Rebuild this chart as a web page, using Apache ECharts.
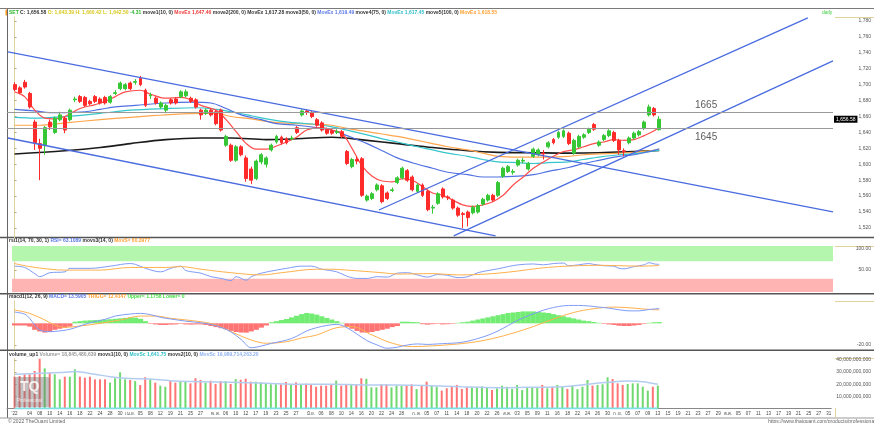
<!DOCTYPE html>
<html>
<head>
<meta charset="utf-8">
<script src="https://cdn.jsdelivr.net/npm/echarts@6/dist/echarts.min.js"></script>
<style>
  html, body { margin: 0; padding: 0; background: #fff; }
  #chart { width: 874px; height: 423px; }
</style>
</head>
<body>
<div id="chart"></div>
<script>
// daily candles [open, close, low, high] (1 Mar - 13 Sep)
const candles = [
  [1700,1694,1692,1703],[1696,1690,1688,1698],[1703,1697,1695,1706],[1689,1672,1670,1691],
  [1653,1627,1618,1656],[1626,1620,1580,1632],[1624,1646,1612,1648],[1653,1647,1643,1656],
  [1640,1658,1638,1660],[1656,1662,1654,1666],[1658,1643,1639,1660],[1656,1668,1654,1670],
  [1681,1682,1678,1685],[1685,1679,1677,1687],[1684,1674,1672,1686],[1679,1676,1674,1681],
  [1685,1679,1677,1687],[1682,1677,1675,1684],[1684,1677,1675,1686],[1678,1685,1676,1687],
  [1689,1690,1687,1693],[1695,1702,1693,1704],[1695,1700,1693,1702],[1702,1695,1693,1704],
  [1703,1704,1700,1707],[1708,1700,1698,1711],[1693,1674,1672,1695],[1686,1687,1682,1690],
  [1683,1677,1675,1685],[1672,1677,1670,1679],[1668,1674,1664,1676],[1681,1677,1675,1683],
  [1682,1677,1675,1684],[1685,1691,1683,1693],[1686,1691,1684,1694],[1683,1679,1677,1685],
  [1681,1672,1670,1683],[1668,1662,1656,1670],[1664,1668,1662,1670],[1668,1662,1660,1670],
  [1666,1651,1649,1668],[1668,1643,1641,1670],[1624,1635,1622,1637],[1624,1605,1603,1626],
  [1605,1622,1603,1624],[1622,1612,1610,1624],[1608,1582,1578,1611],[1594,1580,1575,1597],
  [1582,1604,1580,1606],[1603,1612,1600,1614],[1600,1608,1596,1610],[1618,1624,1616,1626],
  [1628,1635,1626,1637],[1634,1627,1625,1636],[1632,1627,1625,1634],[1632,1633,1630,1636],
  [1646,1640,1638,1648],[1662,1667,1660,1669],[1667,1665,1662,1669],[1665,1660,1658,1667],
  [1656,1649,1647,1658],[1652,1643,1641,1654],[1644,1639,1637,1646],[1642,1639,1637,1644],
  [1640,1641,1638,1644],[1641,1635,1633,1643],[1616,1601,1599,1618],[1597,1606,1595,1608],
  [1606,1604,1600,1610],[1607,1561,1559,1609],[1555,1560,1553,1562],[1557,1563,1555,1565],
  [1568,1574,1566,1576],[1573,1553,1551,1575],[1564,1557,1555,1566],[1567,1568,1565,1571],
  [1577,1583,1575,1585],[1583,1595,1581,1597],[1592,1580,1578,1594],[1584,1568,1566,1586],
  [1566,1574,1564,1576],[1574,1561,1559,1576],[1566,1543,1541,1568],[1545,1546,1538,1549],
  [1551,1563,1549,1565],[1569,1559,1557,1571],[1559,1558,1555,1561],[1555,1545,1543,1557],
  [1545,1536,1534,1547],[1538,1537,1520,1540],[1540,1533,1522,1542],[1539,1546,1537,1548],
  [1540,1548,1538,1550],[1550,1556,1548,1558],[1555,1561,1553,1563],[1561,1555,1553,1563],
  [1561,1577,1559,1579],[1585,1595,1583,1597],[1591,1597,1589,1599],[1590,1591,1587,1594],
  [1599,1605,1597,1607],[1604,1605,1601,1608],[1594,1601,1592,1603],[1610,1619,1608,1621],
  [1612,1618,1610,1620],[1614,1613,1606,1618],[1622,1627,1620,1629],[1631,1627,1625,1633],
  [1634,1640,1632,1642],[1635,1642,1633,1644],[1639,1626,1624,1641],[1614,1630,1612,1632],
  [1622,1635,1620,1637],[1634,1637,1632,1639],[1640,1644,1638,1646],[1650,1644,1642,1652],
  [1624,1628,1622,1630],[1631,1636,1629,1638],[1636,1642,1634,1644],[1640,1630,1628,1642],
  [1630,1618,1612,1632],[1617,1616,1610,1620],[1627,1633,1625,1635],[1633,1639,1631,1641],
  [1637,1641,1635,1643],[1645,1653,1643,1655],[1662,1672,1660,1675],[1670,1662,1660,1672],
  [1643.39,1656.58,1642.50,1660.42]
];

// volume per day, in billions of baht
const volumes = [
  26.2,26.8,28.2,28.2,30.9,41.0,33.1,29.5,28.2,24.0,26.2,26.2,32.3,26.2,25.4,26.2,24.0,24.0,24.0,21.3,
  24.9,29.8,24.0,23.5,22.6,19.3,25.7,24.0,21.3,18.8,17.9,22.6,21.3,22.6,22.6,20.7,24.9,23.5,21.3,22.9,
  20.2,22.6,22.6,20.2,24.2,23.7,24.5,22.1,22.1,21.5,20.2,19.9,19.9,19.9,21.8,19.9,21.5,19.9,20.4,19.9,
  17.9,18.8,18.8,19.3,22.9,18.8,19.9,19.9,19.3,24.9,24.5,17.4,17.4,19.9,19.9,17.4,18.8,18.8,18.8,19.9,
  16.0,18.8,22.1,18.8,17.9,14.7,16.6,17.9,19.4,16.1,17.4,17.4,17.4,18.2,17.4,15.2,16.6,18.8,17.9,16.1,
  19.4,15.2,17.4,17.4,17.4,19.4,16.6,17.9,19.4,17.9,16.1,18.8,15.9,17.9,23.5,18.8,19.4,19.9,25.7,24.3,
  20.7,19.4,20.2,20.7,20.7,17.9,14.7,17.9,18.85
];

// moving averages, sampled as [day index, value]
const ema10 = [[0,1691],[2,1685],[4,1668],[6,1658],[8,1657],[10,1660],[13,1670],[16,1675],[18,1679],[20,1685],
  [22,1691],[25,1693],[27,1688],[30,1683],[33,1684],[35,1681],[37,1674],[40,1668],[42,1656],[44,1641],[46,1626],
  [48,1619],[50,1619],[52,1623],[54,1628],[56,1634],[58,1643],[61,1646],[63,1643],[65,1639],[67,1620],[69,1598],
  [71,1585],[73,1579],[75,1578],[77,1582],[79,1580],[81,1572],[83,1564],[85,1561],[87,1555],[89,1549],[91,1547],
  [93,1549],[95,1553],[97,1561],[99,1574],[101,1584],[103,1595],[105,1603],[107,1610],[109,1616],[111,1618],
  [113,1622],[115,1626],[117,1628],[119,1631],[121,1630],[123,1631],[125,1636],[127,1642],[128,1647.46]];
const ema50 = [[0,1669],[4,1667],[7,1665],[10,1665],[14,1666],[17,1669],[20,1672],[24,1674],[30,1677],[35,1678],
  [39,1677],[42,1670],[45,1662],[49,1656],[52,1651],[56,1649],[60,1646],[63,1643],[66,1636],[70,1626],[73,1617],
  [76,1608],[80,1600],[83,1595],[86,1590],[90,1587],[93,1584],[96,1584],[100,1585],[103,1587],[106,1591],
  [110,1596],[113,1601],[116,1605],[120,1610],[123,1612],[126,1616],[128,1619.49]];
const ema75 = [[0,1659],[4,1658],[10,1660],[17,1664],[23,1668],[30,1670],[36,1671],[40,1669],[43,1666],[47,1661],
  [50,1657],[53,1654],[56,1652],[60,1650],[63,1647],[66,1643],[70,1637],[73,1632],[76,1628],[80,1622],[83,1618],
  [86,1614],[90,1610],[93,1606],[96,1603],[100,1602],[103,1601],[106,1602],[110,1603],[113,1606],[116,1609],
  [120,1612],[123,1613],[126,1616],[128,1617.45]];
const ema100 = [[0,1649],[5,1649],[10,1652],[17,1656],[23,1659],[30,1662],[37,1664],[40,1664],[43,1660],[47,1657],
  [50,1654],[53,1652],[57,1651],[60,1650],[63,1649],[66,1645],[70,1641],[73,1638],[76,1635],[80,1630],[83,1626],
  [86,1622],[90,1618],[93,1614],[96,1610],[100,1609],[103,1609],[106,1609],[110,1610],[113,1612],[116,1613],
  [120,1614],[123,1615],[126,1617],[128,1618.55]];
const ema200 = [[0,1613],[10,1617],[17,1621],[23,1626],[30,1631],[37,1633],[43,1633],[50,1631],[56,1632],[63,1634],
  [70,1630],[76,1626],[83,1621],[90,1617],[96,1615],[103,1614.5],[110,1614],[116,1614.5],[123,1616],[128,1617.28]];

// hand-drawn trend lines, [day index, price] end points
const trendLines = [
  [[-1.31,1741.1],[162.5,1540.1]],
  [[-1.31,1633.0],[95.5,1510.0]],
  [[72.35,1542.6],[157.5,1783.8]],
  [[87.2,1510.0],[162.5,1729.8]]
];
const levels = [1665, 1645];

// RSI(14) and its 14-day average
const rsiLine = [[0,59],[2,56],[4,42],[5,35],[7,44],[10,46],[11,54],[15,54],[19,59],[23,65],[24,63],[26,54],[29,46],
  [31,54],[33,59],[34,49],[37,43],[39,35],[41,31],[43,26],[44,35],[46,27],[47,35],[49,43],[52,50],[54,54],[57,59],
  [59,59],[61,52],[64,46],[66,36],[68,31],[70,31],[72,35],[74,34],[76,43],[78,44],[80,39],[82,34],[84,40],[86,38],
  [88,33],[90,35],[92,44],[94,49],[96,53],[98,58],[100,62],[103,64],[105,62],[107,65],[109,66],[110,60],[112,62],
  [114,65],[115,63],[117,60],[119,59],[120,54],[121,53],[123,58],[125,62],[126,67],[127,64],[128,63.11]];
const rsiMa = [[0,65],[3,58],[7,52],[10,50],[17,50],[23,56],[30,56],[33,58],[37,52],[43,44],[49,39],[53,44],[60,52],
  [63,52],[66,50],[73,44],[76,41],[83,42],[88,39],[92,40],[96,43],[100,48],[104,54],[108,58],[112,60],[116,61],
  [120,60],[124,59],[128,60.4]];

// MACD(12,26,9)
const macdLine = [[0,10.4],[2,8.5],[3,4.6],[4,-1.6],[5,-6.2],[7,-7.7],[9,-7],[11,-5.5],[13,-2.5],[15,0.6],[18,3.7],
  [20,6.7],[23,8.6],[25,9.2],[27,8],[29,5.5],[31,4],[34,2],[37,0.5],[39,-1],[41,-3.7],[43,-8],[45,-15],[47,-22.5],
  [49,-21],[51,-18.5],[54,-15.5],[56,-12],[58,-7],[60,-4],[62,-2],[64,-1],[66,-4],[68,-10],[70,-16],[72,-20],
  [74,-23],[76,-22],[78,-20],[80,-19],[82,-19.5],[84,-19],[86,-18.5],[88,-18],[90,-16.5],[92,-14],[94,-11],
  [96,-7],[98,-2],[100,3],[102,7],[104,10.5],[106,13.5],[108,15.5],[110,16.5],[112,16.5],[114,16],[116,15],
  [118,14],[120,12.5],[122,11.5],[124,11.5],[126,12.8],[128,13.59]];
const macdSignal = [[0,12.3],[3,9.2],[6,3.1],[8,-1.6],[10,-3.7],[13,-2.5],[17,0],[21,3.1],[25,6.7],[28,6.7],
  [31,4.6],[37,1.5],[40,-1.6],[43,-7.7],[47,-15.4],[50,-18.4],[54,-17],[57,-13.5],[60,-10.8],[64,-4],[67,-3.1],
  [71,-10.8],[75,-18.4],[79,-21.5],[83,-20.8],[87,-19.5],[91,-17.5],[95,-14],[99,-9],[103,-3],[107,4],[111,10],
  [115,13.5],[119,15],[123,14],[126,12.8],[128,12.41]];
const macdHist = [
  -2,-2,-2,-3,-6,-7.5,-8.5,-8,-6,-5,-4,-3,
  1.5,2,2.5,2.8,3,3.2,3.5,3.8,4.2,4.6,5,5.5,5.2,4.2,2,
  -0.5,-1,-1.5,-1.5,-1.2,-1,-0.5,-1,-1.2,-1,-1,
  -1.5,-2.5,-3.5,-4.5,-5.5,-7,-8,-8.5,-8.6,-7.5,-6,-4,-2,
  1,2,3,4,5.5,7,8.5,9.5,9,8,6.5,5,3.5,2,0.5,
  -3,-5,-7,-8.5,-8.6,-8,-7,-6,-5,-3.5,-2.5,
  1.5,1.5,1.2,1,-0.8,-1.2,-0.8,-0.5,-1,-0.8,-0.5,
  0.5,1,1.5,2.5,3.5,4.5,5.5,6.5,7.5,8.5,9.5,10,10.5,11,11,11,10.5,10,9.5,8.5,7.5,6.5,5.5,4.5,3.5,2.5,2,1.2,0.5,
  -0.5,-1,-1.5,-2.2,-2.5,-2.5,-2,-1.5,-0.5,
  0.5,1,1.18
];

// 10-day volume averages (billions)
const volMa = [[0,28.2],[5,29.0],[10,29.8],[12,30.4],[16,28.2],[19,26.2],[22,24.9],[27,24.3],[32,22.6],[37,22.1],
  [43,21.5],[50,20.7],[57,19.9],[63,19.9],[70,19.4],[76,19.4],[83,18.8],[89,17.9],[96,17.1],[102,17.4],[109,17.9],
  [114,19.9],[118,21.5],[122,22.6],[125,22.1],[128,19.99]];
const volMovs1 = [[0,0],[128,0]];

// date axis: bar index and its label
const xTickBars = [0,1,3,5,7,9,11,13,15,17,19,21,23,25,27,29,31,33,35,37,40,42,44,46,48,50,52,54,56,
  59,61,63,65,67,69,71,73,75,77,80,82,84,86,88,90,92,94,96,98,100,102,104,106,108,110,112,114,116,118,
  120,122,124,126,128,130,132,134,136,138,140,142,144,146,148,150,152,154,156,158,160,162];
const xTickLabels = ["'22","02","04","08","10","14","16","18","22","24","28","30",
  "เม.ย.","05","08","12","19","21","25","27",
  "พ.ค.","06","10","12","17","19","23","25","27",
  "มิ.ย.","06","08","10","14","16","20","22","24","28",
  "ก.ค.","05","07","11","14","18","20","22","26",
  "ส.ค.","03","05","09","11","16","18","22","24","26","30",
  "ก.ย.","05","07","09","13","15","19","21","23","27","29",
  "ต.ค.","05","07","11","13","17","19","21","25","27","31"];

const priceTicks = [1520,1540,1560,1580,1600,1620,1640,1660,1680,1700,1720,1740,1760,1780];

const UP = '#36c736', DOWN = '#ff2b2b';
const TAN = '#e2d29e';
const FONT = 'Liberation Sans';

const xLabelMap = {};
xTickBars.forEach((b, i) => { xLabelMap[b] = xTickLabels[i]; });

const chart = echarts.init(document.getElementById('chart'));

function xAxisFor(idx, withLabels) {
  return {
    type: 'value', gridIndex: idx, min: -1.5, max: 162.5,
    splitLine: { show: false },
    axisTick: { show: false },
    axisLine: { show: withLabels, lineStyle: { color: '#888', width: 1 } },
    axisLabel: withLabels ? {
      customValues: xTickBars, hideOverlap: false, showMinLabel: true, showMaxLabel: true,
      formatter: v => xLabelMap[Math.round(v)] || '',
      fontSize: 4.5, color: '#444', margin: 3, fontFamily: FONT
    } : { show: false }
  };
}

function yAxisFor(idx, min, max, ticks, fmt, align, margin) {
  return {
    type: 'value', gridIndex: idx, position: 'right', min: min, max: max,
    splitLine: { show: false },
    axisLine: { show: true, lineStyle: { color: TAN, width: 1 } },
    axisTick: { show: true, length: 2, customValues: ticks, lineStyle: { color: '#bba979' } },
    axisLabel: {
      customValues: ticks, formatter: fmt, fontSize: 5, color: '#555',
      align: align, margin: margin, fontFamily: FONT
    }
  };
}

function curve(data, color, width, xi, yi, z) {
  return {
    type: 'line', data: data, xAxisIndex: xi, yAxisIndex: yi, smooth: 0.35,
    symbol: 'none', z: z || 2, silent: true,
    lineStyle: { color: color, width: width }
  };
}

const rs = (c) => ({ color: c, fontSize: 5, fontFamily: FONT });
const rich = {
  k: rs('#333'), g: rs('#2fb52f'), y: rs('#d8c81e'), r: rs('#ee3b3b'), b: rs('#5a78e6'),
  c: rs('#2fbfc9'), o: rs('#ffa033'), s: rs('#9a9a9a'), l: rs('#8fb2ee'), lg: rs('#44dd44')
};
function header(text, top) {
  return { text: text, left: 9, top: top, padding: 0, textStyle: { rich: rich, fontSize: 5 } };
}

const last = candles[candles.length - 1];
const lastLabel = last[1].toLocaleString('en-US', { minimumFractionDigits: 2 });

const candleData = candles.map((c, i) => [i, c[0], c[1], c[2], c[3]]);
const volData = volumes.map((v, i) => ({
  value: [i, v],
  itemStyle: { color: candles[i][1] >= candles[i][0] ? '#6fd86f' : '#ff7474' }
}));
const histData = macdHist.map((v, i) => ({
  value: [i, v],
  itemStyle: { color: v >= 0 ? '#72ec72' : '#ff7373' }
}));

const series = [
  curve(ema200, '#1b1b1b', 1.6, 0, 0),
  curve(ema100, '#ffa64d', 1.2, 0, 0),
  curve(ema75, '#35c6cc', 1.2, 0, 0),
  curve(ema50, '#5070e2', 1.2, 0, 0),
  curve(ema10, '#ff4d4d', 1.2, 0, 0),
  {
    type: 'candlestick', name: 'SET', data: candleData, xAxisIndex: 0, yAxisIndex: 0,
    encode: { x: 0, y: [1, 2, 3, 4] }, barWidth: 3.4, z: 3, silent: true,
    itemStyle: { color: UP, color0: DOWN, borderColor: UP, borderColor0: DOWN, borderWidth: 1 },
    markLine: {
      symbol: 'none', silent: true, animation: false,
      data: [
        ...levels.map(v => ({ yAxis: v, lineStyle: { color: '#9a9a9a', width: 1, type: 'solid' }, label: { show: false } })),
        { yAxis: last[1], lineStyle: { color: 'rgba(0,0,0,0)', width: 0 },
          label: { show: true, position: 'end', distance: 1, formatter: lastLabel, color: '#fff',
                   backgroundColor: '#000', padding: [1, 2], fontSize: 5, fontFamily: FONT } }
      ]
    }
  },
  ...trendLines.map(t => ({
    type: 'line', data: t, xAxisIndex: 0, yAxisIndex: 0, symbol: 'none', z: 4, silent: true,
    lineStyle: { color: '#4a6be0', width: 1.3 }
  })),
  {
    type: 'scatter', xAxisIndex: 0, yAxisIndex: 0, symbolSize: 0, z: 5, silent: true,
    data: levels.map((v, i) => ({
      value: [137.3, v],
      label: { show: true, formatter: String(v), position: i === 0 ? 'top' : 'bottom',
               distance: i === 0 ? 2 : 4, fontSize: 10, color: '#333', fontFamily: FONT }
    }))
  },
  Object.assign(curve(rsiLine, '#7f9cf5', 1, 1, 1), {
    markArea: {
      silent: true,
      data: [
        [{ xAxis: -0.5, yAxis: 70, itemStyle: { color: '#b4f6ae' } }, { xAxis: 162.5, yAxis: 105 }],
        [{ xAxis: -0.5, yAxis: 0, itemStyle: { color: '#ffb4b4' } }, { xAxis: 162.5, yAxis: 30 }]
      ]
    }
  }),
  curve(rsiMa, '#ffb14d', 1, 1, 1),
  { type: 'bar', data: histData, xAxisIndex: 2, yAxisIndex: 2, barWidth: 5.1, silent: true },
  curve(macdSignal, '#ffb14d', 1, 2, 2, 3),
  curve(macdLine, '#7f9cf5', 1, 2, 2, 3),
  { type: 'bar', data: volData, xAxisIndex: 3, yAxisIndex: 3, barWidth: 2, silent: true },
  curve(volMa, '#b3cdf1', 1.5, 3, 3, 3),
  curve(volMovs1, '#7fdfe6', 2, 3, 3, 3)
];

const option = {
  animation: false,
  backgroundColor: '#fff',
  title: [
    header('{g|SET} {k|C: 1,656.58} {y|O: 1,643.39 H: 1,660.42 L: 1,642.50} {g|-4.31} {k|move1(10, 0)} {r|MovEx 1,647.46} {k|move2(200, 0) MovEx 1,617.28} {k|move3(50, 0)} {b|MovEx 1,619.49} {k|move4(75, 0)} {c|MovEx 1,617.45} {k|move5(100, 0)} {o|MovEx 1,618.55}', 10.5),
    header('{k|rsi1(14, 70, 30, 1)} {b|RSI= 63.1089} {k|movs3(14, 0)} {o|MovS= 60.3977}', 238),
    header('{k|macd1(12, 26, 9)} {b|MACD= 13.5905} {o|TRIGG= 12.4147} {lg|Upper= 1.1758 Lower= 0}', 294.5),
    header('{k|volume_up1} {s|Volume= 18,845,480,639} {k|movs1(10, 0)} {c|MovSc 1,641.75} {k|movs2(10, 0)} {l|MovSc 19,989,714,263.20}', 352.5)
  ],
  grid: [
    { left: 7, right: 39, top: 17, height: 221 },
    { left: 7, right: 39, top: 246, height: 46 },
    { left: 7, right: 39, top: 301, height: 48 },
    { left: 7, right: 39, top: 358.4, height: 50 }
  ],
  xAxis: [xAxisFor(0, false), xAxisFor(1, false), xAxisFor(2, false), xAxisFor(3, true)],
  yAxis: [
    yAxisFor(0, 1507.4, 1785, priceTicks, v => v.toLocaleString('en-US'), 'right', 38),
    yAxisFor(1, 0, 105, [50, 100], v => v.toFixed(2), 'right', 38),
    yAxisFor(2, -23.7, 20.6, [-20], v => v.toFixed(2), 'right', 38),
    yAxisFor(3, 0, 41.3, [10, 20, 30, 40], v => (v * 1e9).toLocaleString('en-US'), 'left', 5)
  ],
  series: series,
  graphic: [
    { type: 'line', shape: { x1: 0, y1: 8.5, x2: 874, y2: 8.5 }, style: { stroke: '#7a7a7a', lineWidth: 1 }, silent: true },
    { type: 'rect', shape: { x: 5.5, y: 9.5, width: 2, height: 6 }, style: { fill: '#ff9a1f' }, silent: true },
    { type: 'line', shape: { x1: 7.5, y1: 9, x2: 7.5, y2: 418 }, style: { stroke: '#666', lineWidth: 1 }, silent: true },
    { type: 'line', shape: { x1: 0, y1: 237.5, x2: 874, y2: 237.5 }, style: { stroke: '#555', lineWidth: 1.6 }, silent: true },
    { type: 'line', shape: { x1: 0, y1: 293.8, x2: 874, y2: 293.8 }, style: { stroke: '#555', lineWidth: 1.6 }, silent: true },
    { type: 'line', shape: { x1: 0, y1: 350.3, x2: 874, y2: 350.3 }, style: { stroke: '#555', lineWidth: 1.6 }, silent: true },
    { type: 'line', shape: { x1: 0, y1: 418, x2: 874, y2: 418 }, style: { stroke: '#999', lineWidth: 1 }, silent: true },
    { type: 'line', shape: { x1: 835.5, y1: 408, x2: 835.5, y2: 418 }, style: { stroke: TAN, lineWidth: 1 }, silent: true },
    { type: 'line', shape: { x1: 835, y1: 17.5, x2: 874, y2: 17.5 }, style: { stroke: TAN, lineWidth: 1 }, silent: true },
    { type: 'line', shape: { x1: 835, y1: 246.5, x2: 874, y2: 246.5 }, style: { stroke: TAN, lineWidth: 1 }, silent: true },
    { type: 'line', shape: { x1: 835, y1: 301.5, x2: 874, y2: 301.5 }, style: { stroke: TAN, lineWidth: 1 }, silent: true },
    { type: 'line', shape: { x1: 835, y1: 358.5, x2: 874, y2: 358.5 }, style: { stroke: TAN, lineWidth: 1 }, silent: true },
    { type: 'text', left: 822, top: 10.5, silent: true,
      style: { text: 'daily', fill: '#3ccc3c', fontSize: 5, fontFamily: FONT } },
    { type: 'rect', shape: { x: 14, y: 377, width: 36, height: 30, r: 2 }, z: 10,
      style: { fill: 'rgba(110,110,110,0.42)' }, silent: true },
    { type: 'text', left: 20, top: 380, z: 11, silent: true,
      style: { text: 'TQ', fill: 'rgba(255,255,255,0.85)', fontSize: 14, fontWeight: 'bold', fontFamily: FONT } },
    { type: 'text', left: 17, top: 398, z: 11, silent: true,
      style: { text: 'Professional', fill: 'rgba(255,255,255,0.8)', fontSize: 4.5, fontFamily: FONT } },
    { type: 'text', left: 8, top: 419, silent: true,
      style: { text: '© 2022 TheQuant Limited', fill: '#666', fontSize: 5, fontFamily: FONT } },
    { type: 'text', left: 768, top: 419, silent: true,
      style: { text: 'https://www.thaiquant.com/products/professional', fill: '#666', fontSize: 5, fontFamily: FONT } }
  ]
};

chart.setOption(option);
</script>
</body>
</html>
